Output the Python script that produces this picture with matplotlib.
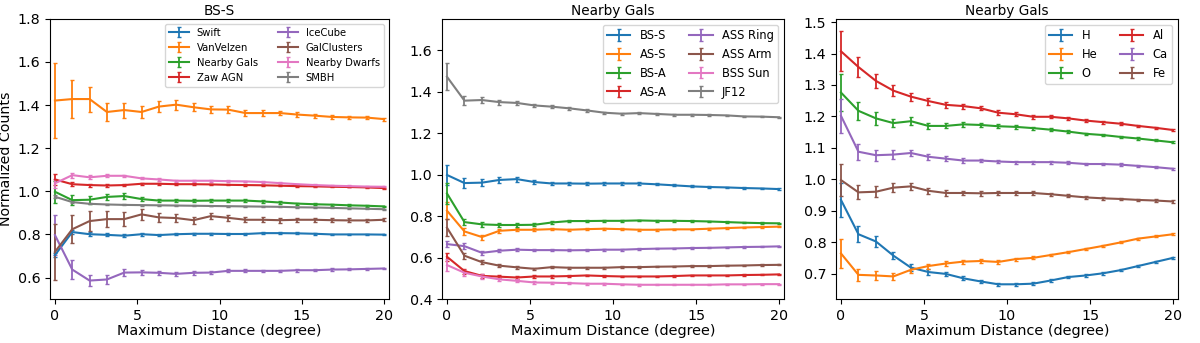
import numpy as np
import matplotlib.pyplot as plt

dist = np.linspace(0, 20, 20)

# panel 1: BS-S model, different source catalogues
swift = [0.704, 0.811, 0.801, 0.798, 0.794, 0.801, 0.797, 0.801, 0.803, 0.803,
         0.802, 0.802, 0.806, 0.806, 0.805, 0.803, 0.800, 0.800, 0.800, 0.799]
swift_err = [0.01, 0.008, 0.008, 0.007, 0.007, 0.006, 0.006, 0.005, 0.005, 0.005,
             0.005, 0.004, 0.004, 0.004, 0.004, 0.004, 0.003, 0.003, 0.003, 0.003]
vanvelzen = [1.421, 1.428, 1.428, 1.368, 1.377, 1.368, 1.393, 1.402, 1.390, 1.380,
             1.379, 1.363, 1.363, 1.363, 1.356, 1.351, 1.345, 1.343, 1.342, 1.335]
vanvelzen_err = [0.173, 0.089, 0.058, 0.044, 0.035, 0.029, 0.025, 0.023, 0.018, 0.016,
                 0.015, 0.013, 0.012, 0.011, 0.010, 0.009, 0.008, 0.008, 0.007, 0.007]
nearby_gals = [0.998, 0.959, 0.961, 0.974, 0.978, 0.964, 0.957, 0.957, 0.956, 0.957,
               0.957, 0.957, 0.953, 0.948, 0.943, 0.940, 0.938, 0.935, 0.933, 0.930]
nearby_gals_err = [0.05, 0.022, 0.018, 0.014, 0.012, 0.01, 0.008, 0.007, 0.007, 0.006,
                   0.006, 0.006, 0.005, 0.005, 0.005, 0.004, 0.004, 0.004, 0.004, 0.004]
zaw_agn = [1.055, 1.033, 1.029, 1.027, 1.029, 1.035, 1.035, 1.033, 1.033, 1.032,
           1.030, 1.029, 1.028, 1.026, 1.024, 1.023, 1.021, 1.020, 1.018, 1.015]
zaw_agn_err = [0.025, 0.009, 0.007, 0.006, 0.005, 0.005, 0.004, 0.004, 0.004, 0.003,
               0.003, 0.003, 0.003, 0.003, 0.003, 0.003, 0.002, 0.002, 0.002, 0.002]
icecube = [0.797, 0.637, 0.586, 0.591, 0.623, 0.624, 0.622, 0.617, 0.622, 0.623,
           0.631, 0.631, 0.631, 0.631, 0.634, 0.634, 0.637, 0.638, 0.640, 0.642]
icecube_err = [0.093, 0.044, 0.026, 0.02, 0.015, 0.012, 0.01, 0.009, 0.008, 0.008,
               0.007, 0.007, 0.006, 0.006, 0.006, 0.005, 0.005, 0.005, 0.005, 0.004]
galclusters = [0.719, 0.824, 0.862, 0.871, 0.871, 0.893, 0.879, 0.876, 0.866, 0.885,
               0.877, 0.868, 0.868, 0.866, 0.868, 0.868, 0.866, 0.865, 0.865, 0.868]
galclusters_err = [0.13, 0.065, 0.045, 0.038, 0.033, 0.025, 0.02, 0.019, 0.017, 0.015,
                   0.014, 0.012, 0.011, 0.011, 0.010, 0.010, 0.009, 0.009, 0.008, 0.008]
nearby_dwarfs = [1.037, 1.075, 1.065, 1.072, 1.072, 1.060, 1.055, 1.049, 1.049, 1.049,
                 1.047, 1.046, 1.043, 1.038, 1.033, 1.029, 1.026, 1.024, 1.022, 1.021]
nearby_dwarfs_err = [0.02, 0.012, 0.009, 0.007, 0.006, 0.005, 0.005, 0.004, 0.004, 0.004,
                     0.004, 0.003, 0.003, 0.003, 0.003, 0.003, 0.003, 0.003, 0.002, 0.002]
smbh = [0.975, 0.950, 0.942, 0.939, 0.937, 0.936, 0.935, 0.934, 0.933, 0.932,
        0.931, 0.930, 0.929, 0.928, 0.926, 0.925, 0.923, 0.921, 0.919, 0.917]
smbh_err = [0.006, 0.004, 0.003, 0.003, 0.002, 0.002, 0.002, 0.002, 0.002, 0.002,
            0.002, 0.002, 0.002, 0.002, 0.002, 0.002, 0.002, 0.002, 0.002, 0.002]

# panel 2: Nearby Gals catalogue, different GMF models
bs_s = nearby_gals
bs_s_err = nearby_gals_err
as_s = [0.826, 0.726, 0.699, 0.729, 0.734, 0.734, 0.737, 0.734, 0.737, 0.739,
        0.737, 0.734, 0.734, 0.736, 0.736, 0.739, 0.742, 0.745, 0.747, 0.749]
as_s_err = [0.04, 0.015, 0.012, 0.01, 0.008, 0.007, 0.006, 0.006, 0.005, 0.005,
            0.005, 0.004, 0.004, 0.004, 0.004, 0.004, 0.003, 0.003, 0.003, 0.003]
bs_a = [0.909, 0.771, 0.760, 0.757, 0.757, 0.758, 0.769, 0.776, 0.776, 0.777,
        0.777, 0.779, 0.777, 0.777, 0.776, 0.774, 0.771, 0.768, 0.766, 0.765]
bs_a_err = [0.05, 0.015, 0.012, 0.01, 0.008, 0.007, 0.006, 0.006, 0.005, 0.005,
            0.005, 0.004, 0.004, 0.004, 0.004, 0.004, 0.003, 0.003, 0.003, 0.003]
as_a = [0.604, 0.535, 0.512, 0.508, 0.504, 0.509, 0.509, 0.511, 0.514, 0.511,
        0.509, 0.509, 0.509, 0.511, 0.514, 0.514, 0.514, 0.516, 0.517, 0.519]
as_a_err = [0.02, 0.012, 0.009, 0.007, 0.006, 0.005, 0.005, 0.004, 0.004, 0.004,
            0.004, 0.003, 0.003, 0.003, 0.003, 0.003, 0.003, 0.003, 0.002, 0.002]
ass_ring = [0.665, 0.655, 0.623, 0.633, 0.638, 0.636, 0.636, 0.635, 0.636, 0.638,
            0.638, 0.641, 0.643, 0.644, 0.646, 0.647, 0.649, 0.651, 0.652, 0.654]
ass_ring_err = [0.015, 0.015, 0.01, 0.008, 0.007, 0.006, 0.005, 0.005, 0.004, 0.004,
                0.004, 0.004, 0.003, 0.003, 0.003, 0.003, 0.003, 0.003, 0.003, 0.003]
ass_arm = [0.744, 0.609, 0.578, 0.561, 0.553, 0.546, 0.554, 0.551, 0.551, 0.551,
           0.554, 0.554, 0.556, 0.557, 0.559, 0.559, 0.561, 0.562, 0.564, 0.565]
ass_arm_err = [0.04, 0.015, 0.01, 0.008, 0.007, 0.006, 0.005, 0.005, 0.004, 0.004,
               0.004, 0.004, 0.003, 0.003, 0.003, 0.003, 0.003, 0.003, 0.003, 0.003]
bss_sun = [0.564, 0.527, 0.509, 0.495, 0.488, 0.480, 0.479, 0.477, 0.474, 0.474,
           0.471, 0.469, 0.469, 0.469, 0.469, 0.469, 0.471, 0.471, 0.472, 0.472]
bss_sun_err = [0.03, 0.015, 0.012, 0.009, 0.007, 0.006, 0.005, 0.005, 0.004, 0.004,
               0.004, 0.004, 0.003, 0.003, 0.003, 0.003, 0.003, 0.003, 0.003, 0.003]
jf12 = [1.471, 1.356, 1.359, 1.349, 1.345, 1.333, 1.327, 1.319, 1.309, 1.298,
        1.293, 1.296, 1.292, 1.288, 1.288, 1.287, 1.285, 1.280, 1.279, 1.276]
jf12_err = [0.064, 0.02, 0.015, 0.012, 0.01, 0.008, 0.007, 0.006, 0.006, 0.005,
            0.005, 0.005, 0.004, 0.004, 0.004, 0.004, 0.004, 0.003, 0.003, 0.003]

# panel 3: Nearby Gals catalogue, different primaries
h = [0.935, 0.826, 0.803, 0.758, 0.720, 0.706, 0.700, 0.686, 0.676, 0.667,
     0.667, 0.669, 0.679, 0.690, 0.695, 0.702, 0.712, 0.725, 0.738, 0.751]
h_err = [0.053, 0.025, 0.018, 0.012, 0.01, 0.008, 0.007, 0.006, 0.006, 0.005,
         0.005, 0.005, 0.004, 0.004, 0.004, 0.004, 0.003, 0.003, 0.003, 0.003]
he = [0.765, 0.697, 0.695, 0.692, 0.713, 0.725, 0.733, 0.739, 0.741, 0.738,
      0.747, 0.751, 0.760, 0.769, 0.779, 0.789, 0.800, 0.812, 0.819, 0.826]
he_err = [0.045, 0.02, 0.015, 0.012, 0.01, 0.008, 0.007, 0.006, 0.006, 0.005,
          0.005, 0.005, 0.004, 0.004, 0.004, 0.004, 0.003, 0.003, 0.003, 0.003]
o = [1.276, 1.218, 1.194, 1.179, 1.185, 1.170, 1.170, 1.175, 1.173, 1.169,
     1.167, 1.163, 1.158, 1.152, 1.145, 1.141, 1.135, 1.130, 1.124, 1.118]
o_err = [0.058, 0.028, 0.02, 0.014, 0.012, 0.01, 0.008, 0.007, 0.007, 0.006,
         0.006, 0.005, 0.005, 0.005, 0.004, 0.004, 0.004, 0.004, 0.003, 0.003]
al = [1.407, 1.357, 1.313, 1.282, 1.263, 1.249, 1.237, 1.233, 1.226, 1.212,
      1.207, 1.199, 1.199, 1.194, 1.187, 1.182, 1.177, 1.170, 1.164, 1.157]
al_err = [0.063, 0.032, 0.022, 0.017, 0.013, 0.011, 0.009, 0.008, 0.007, 0.007,
          0.006, 0.006, 0.005, 0.005, 0.005, 0.005, 0.004, 0.004, 0.004, 0.004]
ca = [1.202, 1.088, 1.077, 1.079, 1.084, 1.072, 1.066, 1.060, 1.060, 1.057,
      1.055, 1.055, 1.055, 1.053, 1.049, 1.049, 1.047, 1.043, 1.039, 1.034]
ca_err = [0.055, 0.025, 0.018, 0.014, 0.011, 0.009, 0.008, 0.007, 0.006, 0.006,
          0.005, 0.005, 0.005, 0.004, 0.004, 0.004, 0.004, 0.003, 0.003, 0.003]
fe = nearby_gals
fe_err = nearby_gals_err

panels = [
    ("BS-S", [("Swift", swift, swift_err), ("VanVelzen", vanvelzen, vanvelzen_err),
              ("Nearby Gals", nearby_gals, nearby_gals_err), ("Zaw AGN", zaw_agn, zaw_agn_err),
              ("IceCube", icecube, icecube_err), ("GalClusters", galclusters, galclusters_err),
              ("Nearby Dwarfs", nearby_dwarfs, nearby_dwarfs_err), ("SMBH", smbh, smbh_err)],
     (0.5, 1.8), [0.6, 0.8, 1.0, 1.2, 1.4, 1.6, 1.8]),
    ("Nearby Gals", [("BS-S", bs_s, bs_s_err), ("AS-S", as_s, as_s_err),
                     ("BS-A", bs_a, bs_a_err), ("AS-A", as_a, as_a_err),
                     ("ASS Ring", ass_ring, ass_ring_err), ("ASS Arm", ass_arm, ass_arm_err),
                     ("BSS Sun", bss_sun, bss_sun_err), ("JF12", jf12, jf12_err)],
     (0.4, 1.75), [0.4, 0.6, 0.8, 1.0, 1.2, 1.4, 1.6]),
    ("Nearby Gals", [("H", h, h_err), ("He", he, he_err), ("O", o, o_err),
                     ("Al", al, al_err), ("Ca", ca, ca_err), ("Fe", fe, fe_err)],
     (0.62, 1.51), [0.7, 0.8, 0.9, 1.0, 1.1, 1.2, 1.3, 1.4, 1.5]),
]

fig = plt.figure(figsize=(12, 3.43), dpi=100)
lefts = [50/1200, 442/1200, 836/1200]
widths = [339/1200, 342/1200, 342/1200]

for i, (title, series, ylim, yticks) in enumerate(panels):
    ax = fig.add_axes([lefts[i], 0.128, widths[i], 0.817])
    for label, y, err in series:
        ax.errorbar(dist, y, yerr=err, label=label, lw=1.5, capsize=1.5, elinewidth=1.3)
    ax.set_xlim(-0.3, 20.3)
    ax.set_ylim(*ylim)
    ax.set_yticks(yticks)
    ax.set_xticks([0, 5, 10, 15, 20])
    ax.tick_params(labelsize=10.3)
    ax.set_title(title, fontsize=9.8, pad=3)
    ax.set_xlabel("Maximum Distance (degree)", fontsize=10.4, labelpad=0.5)
    if i == 0:
        ax.set_ylabel("Normalized Counts", fontsize=10.2, labelpad=3)
        ax.legend(ncol=2, loc="upper right", fontsize=7.2)
    else:
        ax.legend(ncol=2, loc="upper right", fontsize=8.3)

fig.savefig("out.png", dpi=100)
